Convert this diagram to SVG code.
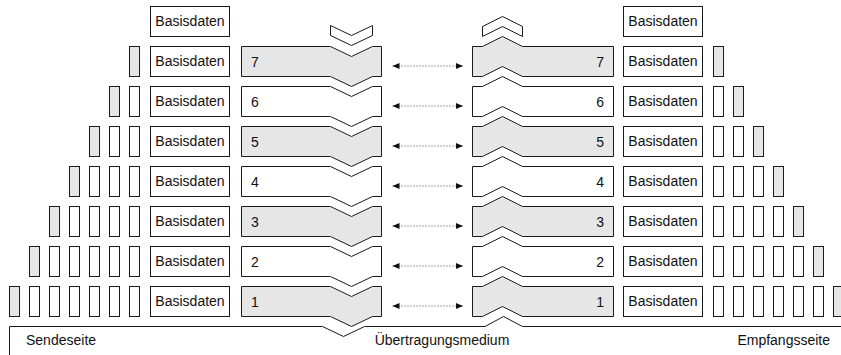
<svg xmlns="http://www.w3.org/2000/svg" width="841" height="355" viewBox="0 0 841 355">
  <style>
    .box { fill: #ffffff; stroke: #1a1a1a; stroke-width: 1; }
    .hl { fill: #e6e6e6; }
    .line { fill: none; stroke: #1a1a1a; stroke-width: 1; }
    .dots { fill: none; stroke: #444444; stroke-width: 1; stroke-dasharray: 1 2; }
    text { font-family: "Liberation Sans", Arial, sans-serif; font-size: 14px; fill: #111111; }
    .mid { text-anchor: middle; }
    .end { text-anchor: end; }
  </style>
  <defs>
    <marker id="tip" markerUnits="userSpaceOnUse" markerWidth="7" markerHeight="6" refX="7" refY="3" orient="auto-start-reverse">
      <path d="M0,0 L7,3 L0,6 Z" fill="#111111"/>
    </marker>
    <!-- layer block on the sending side: notch on top, point below -->
    <path id="sendBlock" d="M241.5,0 H330.5 L351.5,10 L372.5,0 H381.5 V30 H372.5 L351.5,40 L330.5,30 H241.5 Z"/>
    <!-- layer block on the receiving side: point on top, notch below -->
    <path id="recvBlock" d="M472.5,0 H482.5 L502.5,-10 L522.5,0 H613.5 V30 H522.5 L502.5,20 L482.5,30 H472.5 Z"/>
    <rect id="cell" width="10" height="30"/>
    <rect id="data" width="79" height="30"/>
  </defs>

  <!-- direction marks above the two stacks -->
  <g id="sendArrow">
    <path class="box" d="M330.5,25.5 L351.5,35.5 L372.5,25.5 V35.5 L351.5,45.5 L330.5,35.5 Z"/>
  </g>
  <g id="recvArrow">
    <path class="box" d="M482.5,26.5 L502.5,16.5 L522.5,26.5 V36.5 L502.5,26.5 L482.5,36.5 Z"/>
  </g>

  <!-- top payload -->
  <g id="sendData8"><use href="#data" class="box" x="150.5" y="6.5"/><text class="mid" x="190" y="26">Basisdaten</text></g>
  <g id="recvData8"><use href="#data" class="box" x="623.5" y="6.5"/><text class="mid" x="663" y="26">Basisdaten</text></g>

  <!-- sending side, layer 7 down to 1 -->
  <g id="sendLayer7" transform="translate(0,46.5)"><use href="#sendBlock" class="box hl"/><text x="251" y="20">7</text></g>
  <g id="sendLayer6" transform="translate(0,86.5)"><use href="#sendBlock" class="box"/><text x="251" y="20">6</text></g>
  <g id="sendLayer5" transform="translate(0,126.5)"><use href="#sendBlock" class="box hl"/><text x="251" y="20">5</text></g>
  <g id="sendLayer4" transform="translate(0,166.5)"><use href="#sendBlock" class="box"/><text x="251" y="20">4</text></g>
  <g id="sendLayer3" transform="translate(0,206.5)"><use href="#sendBlock" class="box hl"/><text x="251" y="20">3</text></g>
  <g id="sendLayer2" transform="translate(0,246.5)"><use href="#sendBlock" class="box"/><text x="251" y="20">2</text></g>
  <g id="sendLayer1" transform="translate(0,286.5)"><use href="#sendBlock" class="box hl"/><text x="251" y="20">1</text></g>

  <!-- receiving side, layer 7 down to 1 -->
  <g id="recvLayer7" transform="translate(0,46.5)"><use href="#recvBlock" class="box hl"/><text class="end" x="604" y="20">7</text></g>
  <g id="recvLayer6" transform="translate(0,86.5)"><use href="#recvBlock" class="box"/><text class="end" x="604" y="20">6</text></g>
  <g id="recvLayer5" transform="translate(0,126.5)"><use href="#recvBlock" class="box hl"/><text class="end" x="604" y="20">5</text></g>
  <g id="recvLayer4" transform="translate(0,166.5)"><use href="#recvBlock" class="box"/><text class="end" x="604" y="20">4</text></g>
  <g id="recvLayer3" transform="translate(0,206.5)"><use href="#recvBlock" class="box hl"/><text class="end" x="604" y="20">3</text></g>
  <g id="recvLayer2" transform="translate(0,246.5)"><use href="#recvBlock" class="box"/><text class="end" x="604" y="20">2</text></g>
  <g id="recvLayer1" transform="translate(0,286.5)"><use href="#recvBlock" class="box hl"/><text class="end" x="604" y="20">1</text></g>

  <!-- sending side: payload plus accumulated headers (newest header shaded) -->
  <g id="sendData7" transform="translate(0,46.5)">
    <use href="#data" class="box" x="150.5"/><text class="mid" x="190" y="19.5">Basisdaten</text>
    <use href="#cell" class="box hl" x="129.5"/>
  </g>
  <g id="sendData6" transform="translate(0,86.5)">
    <use href="#data" class="box" x="150.5"/><text class="mid" x="190" y="19.5">Basisdaten</text>
    <use href="#cell" class="box" x="129.5"/><use href="#cell" class="box hl" x="109.5"/>
  </g>
  <g id="sendData5" transform="translate(0,126.5)">
    <use href="#data" class="box" x="150.5"/><text class="mid" x="190" y="19.5">Basisdaten</text>
    <use href="#cell" class="box" x="129.5"/><use href="#cell" class="box" x="109.5"/><use href="#cell" class="box hl" x="89.5"/>
  </g>
  <g id="sendData4" transform="translate(0,166.5)">
    <use href="#data" class="box" x="150.5"/><text class="mid" x="190" y="19.5">Basisdaten</text>
    <use href="#cell" class="box" x="129.5"/><use href="#cell" class="box" x="109.5"/><use href="#cell" class="box" x="89.5"/><use href="#cell" class="box hl" x="69.5"/>
  </g>
  <g id="sendData3" transform="translate(0,206.5)">
    <use href="#data" class="box" x="150.5"/><text class="mid" x="190" y="19.5">Basisdaten</text>
    <use href="#cell" class="box" x="129.5"/><use href="#cell" class="box" x="109.5"/><use href="#cell" class="box" x="89.5"/><use href="#cell" class="box" x="69.5"/><use href="#cell" class="box hl" x="49.5"/>
  </g>
  <g id="sendData2" transform="translate(0,246.5)">
    <use href="#data" class="box" x="150.5"/><text class="mid" x="190" y="19.5">Basisdaten</text>
    <use href="#cell" class="box" x="129.5"/><use href="#cell" class="box" x="109.5"/><use href="#cell" class="box" x="89.5"/><use href="#cell" class="box" x="69.5"/><use href="#cell" class="box" x="49.5"/><use href="#cell" class="box hl" x="29.5"/>
  </g>
  <g id="sendData1" transform="translate(0,286.5)">
    <use href="#data" class="box" x="150.5"/><text class="mid" x="190" y="19.5">Basisdaten</text>
    <use href="#cell" class="box" x="129.5"/><use href="#cell" class="box" x="109.5"/><use href="#cell" class="box" x="89.5"/><use href="#cell" class="box" x="69.5"/><use href="#cell" class="box" x="49.5"/><use href="#cell" class="box" x="29.5"/><use href="#cell" class="box hl" x="9.5"/>
  </g>

  <!-- receiving side: payload plus headers still to be removed (outermost shaded) -->
  <g id="recvData7" transform="translate(0,46.5)">
    <use href="#data" class="box" x="623.5"/><text class="mid" x="663" y="19.5">Basisdaten</text>
    <use href="#cell" class="box hl" x="713.5"/>
  </g>
  <g id="recvData6" transform="translate(0,86.5)">
    <use href="#data" class="box" x="623.5"/><text class="mid" x="663" y="19.5">Basisdaten</text>
    <use href="#cell" class="box" x="713.5"/><use href="#cell" class="box hl" x="733.5"/>
  </g>
  <g id="recvData5" transform="translate(0,126.5)">
    <use href="#data" class="box" x="623.5"/><text class="mid" x="663" y="19.5">Basisdaten</text>
    <use href="#cell" class="box" x="713.5"/><use href="#cell" class="box" x="733.5"/><use href="#cell" class="box hl" x="753.5"/>
  </g>
  <g id="recvData4" transform="translate(0,166.5)">
    <use href="#data" class="box" x="623.5"/><text class="mid" x="663" y="19.5">Basisdaten</text>
    <use href="#cell" class="box" x="713.5"/><use href="#cell" class="box" x="733.5"/><use href="#cell" class="box" x="753.5"/><use href="#cell" class="box hl" x="773.5"/>
  </g>
  <g id="recvData3" transform="translate(0,206.5)">
    <use href="#data" class="box" x="623.5"/><text class="mid" x="663" y="19.5">Basisdaten</text>
    <use href="#cell" class="box" x="713.5"/><use href="#cell" class="box" x="733.5"/><use href="#cell" class="box" x="753.5"/><use href="#cell" class="box" x="773.5"/><use href="#cell" class="box hl" x="793.5"/>
  </g>
  <g id="recvData2" transform="translate(0,246.5)">
    <use href="#data" class="box" x="623.5"/><text class="mid" x="663" y="19.5">Basisdaten</text>
    <use href="#cell" class="box" x="713.5"/><use href="#cell" class="box" x="733.5"/><use href="#cell" class="box" x="753.5"/><use href="#cell" class="box" x="773.5"/><use href="#cell" class="box" x="793.5"/><use href="#cell" class="box hl" x="813.5"/>
  </g>
  <g id="recvData1" transform="translate(0,286.5)">
    <use href="#data" class="box" x="623.5"/><text class="mid" x="663" y="19.5">Basisdaten</text>
    <use href="#cell" class="box" x="713.5"/><use href="#cell" class="box" x="733.5"/><use href="#cell" class="box" x="753.5"/><use href="#cell" class="box" x="773.5"/><use href="#cell" class="box" x="793.5"/><use href="#cell" class="box" x="813.5"/><use href="#cell" class="box hl" x="833.5"/>
  </g>

  <!-- peer-to-peer links between matching layers -->
  <g id="connectors">
    <line class="dots" x1="392.5" y1="66" x2="463" y2="66" marker-start="url(#tip)" marker-end="url(#tip)"/>
    <line class="dots" x1="392.5" y1="106" x2="463" y2="106" marker-start="url(#tip)" marker-end="url(#tip)"/>
    <line class="dots" x1="392.5" y1="146" x2="463" y2="146" marker-start="url(#tip)" marker-end="url(#tip)"/>
    <line class="dots" x1="392.5" y1="186" x2="463" y2="186" marker-start="url(#tip)" marker-end="url(#tip)"/>
    <line class="dots" x1="392.5" y1="226" x2="463" y2="226" marker-start="url(#tip)" marker-end="url(#tip)"/>
    <line class="dots" x1="392.5" y1="266" x2="463" y2="266" marker-start="url(#tip)" marker-end="url(#tip)"/>
    <line class="dots" x1="392.5" y1="306" x2="463" y2="306" marker-start="url(#tip)" marker-end="url(#tip)"/>
  </g>

  <!-- transmission medium -->
  <g id="medium">
    <path class="line" d="M9.5,355 V326.5 H322.5 L343.5,336.5 L364.5,326.5 H485 L503.5,316.5 L522.5,326.5 H841"/>
    <text x="26" y="345">Sendeseite</text>
    <text class="mid" x="442" y="345">Übertragungsmedium</text>
    <text class="end" x="830" y="345">Empfangsseite</text>
  </g>
</svg>
